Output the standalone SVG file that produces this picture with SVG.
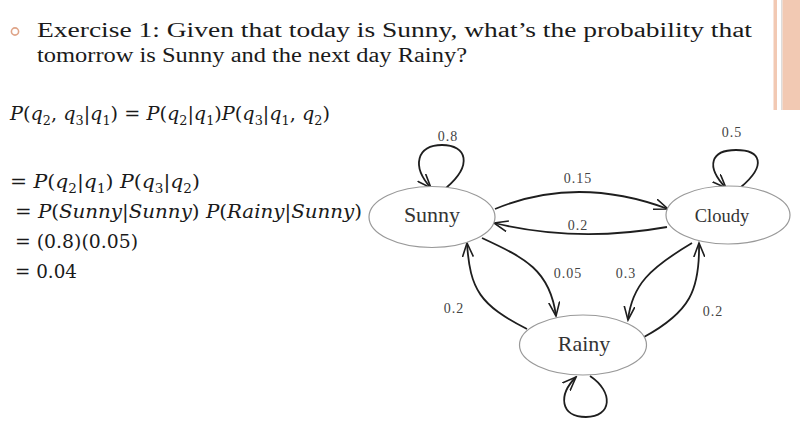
<svg xmlns="http://www.w3.org/2000/svg" width="800" height="422" viewBox="0 0 800 422">
<style>
.t{font-family:"Liberation Serif","Times New Roman",serif;font-size:20px;fill:#1a1a1a}
.m{font-family:"DejaVu Serif","Liberation Serif",serif;font-size:18px;fill:#1a1a1a}
.i{font-style:italic}
.s{font-size:12px}
.node ellipse{fill:#fff;stroke:#999;stroke-width:1.2}
.node text{font-family:"Liberation Serif","Times New Roman",serif;font-size:22px;fill:#333;text-anchor:middle}
.edge{fill:none;stroke:#1e1e1e;stroke-width:1.8;marker-end:url(#arr)}
.lbl{font-family:"Liberation Serif","Times New Roman",serif;font-size:14px;letter-spacing:1px;fill:#444;text-anchor:middle}
</style>
<defs>
<marker id="arr" markerUnits="userSpaceOnUse" markerWidth="16" markerHeight="12" refX="14" refY="6" orient="auto">
<path d="M0,0.5 L14,6 L0,11.5" fill="none" stroke="#1e1e1e" stroke-width="1.6"/>
</marker>
</defs>
<rect width="800" height="422" fill="#fff"/>
<!-- side decoration -->
<rect x="773.5" y="0" width="3.5" height="110" fill="#f2c9b3"/>
<rect x="781" y="0" width="1.5" height="110" fill="#ddd"/>
<rect x="782.5" y="0" width="17.5" height="110" fill="#f2c9b3"/>
<!-- bullet -->
<circle cx="15" cy="31.5" r="3.6" fill="none" stroke="#dfa488" stroke-width="1.6"/>
<!-- title -->
<text class="t" x="37" y="37" textLength="715" lengthAdjust="spacingAndGlyphs">Exercise 1: Given that today is Sunny, what’s the probability that</text>
<text class="t" x="37" y="62" textLength="430" lengthAdjust="spacingAndGlyphs">tomorrow is Sunny and the next day Rainy?</text>
<!-- math -->
<text class="m" x="10" y="120" textLength="320" lengthAdjust="spacingAndGlyphs"><tspan class="i">P</tspan>(<tspan class="i">q</tspan><tspan class="s" dy="4.5">2</tspan><tspan dy="-4.5">, </tspan><tspan class="i">q</tspan><tspan class="s" dy="4.5">3</tspan><tspan dy="-4.5">|</tspan><tspan class="i">q</tspan><tspan class="s" dy="4.5">1</tspan><tspan dy="-4.5">) = </tspan><tspan class="i">P</tspan>(<tspan class="i">q</tspan><tspan class="s" dy="4.5">2</tspan><tspan dy="-4.5">|</tspan><tspan class="i">q</tspan><tspan class="s" dy="4.5">1</tspan><tspan dy="-4.5">)</tspan><tspan class="i">P</tspan>(<tspan class="i">q</tspan><tspan class="s" dy="4.5">3</tspan><tspan dy="-4.5">|</tspan><tspan class="i">q</tspan><tspan class="s" dy="4.5">1</tspan><tspan dy="-4.5">, </tspan><tspan class="i">q</tspan><tspan class="s" dy="4.5">2</tspan><tspan dy="-4.5">)</tspan></text>
<text class="m" x="10" y="188" textLength="190" lengthAdjust="spacingAndGlyphs">=  <tspan class="i">P</tspan>(<tspan class="i">q</tspan><tspan class="s" dy="4.5">2</tspan><tspan dy="-4.5">|</tspan><tspan class="i">q</tspan><tspan class="s" dy="4.5">1</tspan><tspan dy="-4.5">) </tspan><tspan class="i">P</tspan>(<tspan class="i">q</tspan><tspan class="s" dy="4.5">3</tspan><tspan dy="-4.5">|</tspan><tspan class="i">q</tspan><tspan class="s" dy="4.5">2</tspan><tspan dy="-4.5">)</tspan></text>
<text class="m" x="15" y="218" textLength="347" lengthAdjust="spacingAndGlyphs">=  <tspan class="i">P</tspan>(<tspan class="i">Sunny</tspan>|<tspan class="i">Sunny</tspan>) <tspan class="i">P</tspan>(<tspan class="i">Rainy</tspan>|<tspan class="i">Sunny</tspan>)</text>
<text class="m" x="15" y="248" textLength="123" lengthAdjust="spacingAndGlyphs">= (0.8)(0.05)</text>
<text class="m" x="15" y="278" textLength="62" lengthAdjust="spacingAndGlyphs">= 0.04</text>
<!-- connectors -->
<g id="connectors">
<path class="edge" d="M446,188 C473,165 467,145 442,145 C417,145 411,166 431,188"/>
<path class="edge" d="M741,187 C767,165 761,150 736,150 C711,150 705,166 726,188"/>
<path class="edge" d="M590,376 C614,392 612,417 586,417 C560,417 558,395 576,377"/>
<path class="edge" d="M495,209 Q577,175 668,209"/>
<path class="edge" d="M667,227 Q577,243 494,223"/>
<path class="edge" d="M482,238 C525,258 550,270 556,316"/>
<path class="edge" d="M527,329 C480,305 470,290 467,243"/>
<path class="edge" d="M692,243 C650,268 632,285 628,320"/>
<path class="edge" d="M644,337 C690,312 700,290 699,243"/>
<text class="lbl" x="448" y="141">0.8</text>
<text class="lbl" x="732" y="137">0.5</text>
<text class="lbl" x="578" y="183">0.15</text>
<text class="lbl" x="578" y="230">0.2</text>
<text class="lbl" x="568" y="278">0.05</text>
<text class="lbl" x="626" y="278">0.3</text>
<text class="lbl" x="454" y="313">0.2</text>
<text class="lbl" x="713" y="316">0.2</text>
</g>
<!-- nodes -->
<g id="node-sunny" class="node"><ellipse cx="432" cy="217" rx="63" ry="30.5"/><text x="432" y="222">Sunny</text></g>
<g id="node-cloudy" class="node"><ellipse cx="728" cy="215" rx="62" ry="29"/><text x="722" y="222" style="font-size:18.5px">Cloudy</text></g>
<g id="node-rainy" class="node"><ellipse cx="583" cy="345" rx="63.5" ry="30"/><text x="584" y="351">Rainy</text></g>
</svg>
